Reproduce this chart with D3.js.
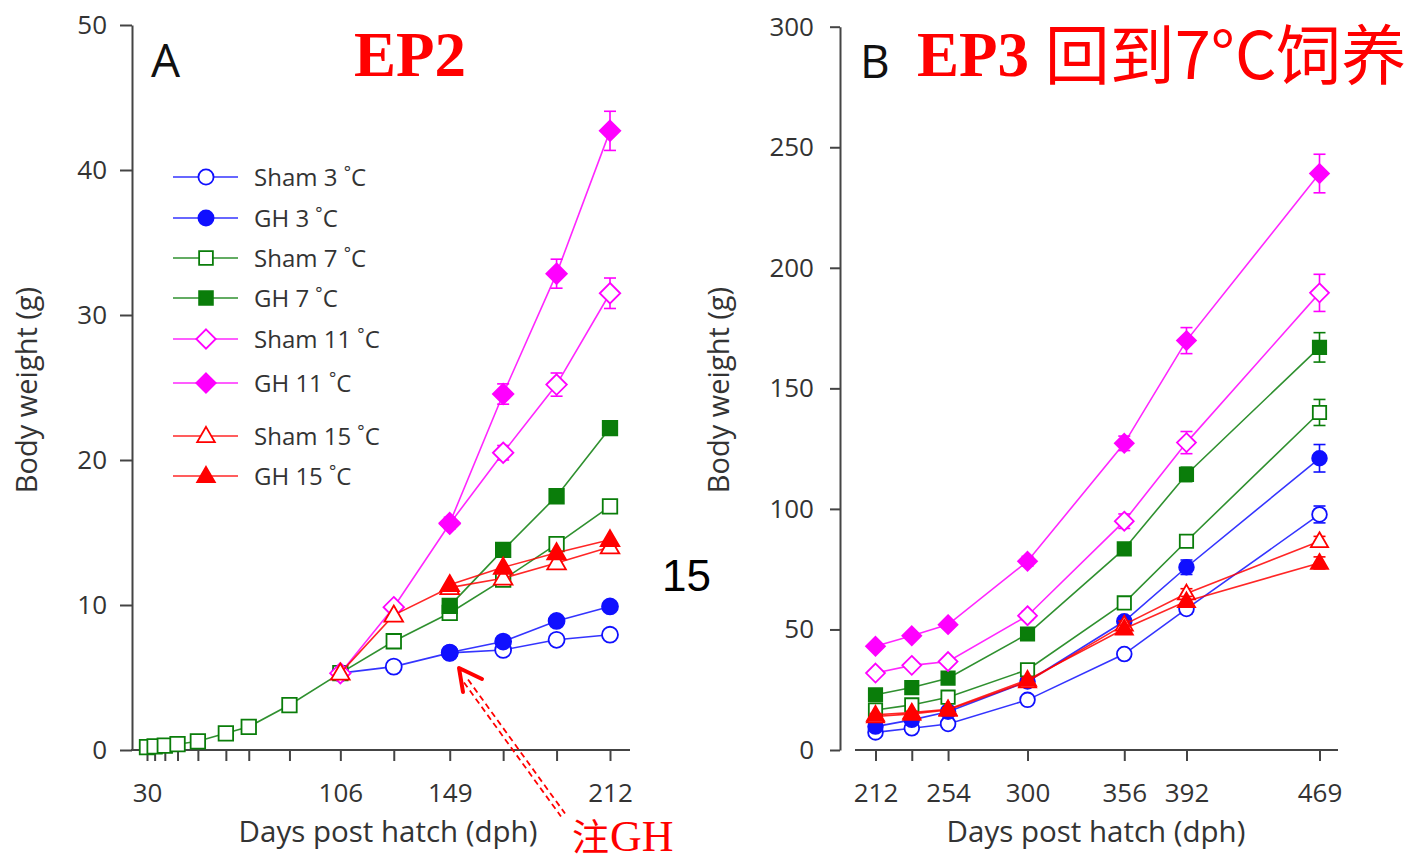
<!DOCTYPE html>
<html>
<head>
<meta charset="utf-8">
<title>Body weight - EP2 / EP3</title>
<script src="https://d3js.org/d3.v7.min.js"></script>
<style>
  body { margin: 0; background: #fff; }
  .tick text, .lbl { font-family: "Open Sans", Lato, sans-serif; fill: #333; }
  .ax path, .ax line, .axline { stroke: #444; stroke-width: 2; }
</style>
</head>
<body>
<div id="viz"></div>
<script>
// ---- data ----
// panel A (EP2): days post hatch
var daysEarly = [30, 33, 37, 42, 50, 61, 70, 86];
var daysA = [106, 127, 149, 170, 191, 212];
var daysA_gh = [149, 170, 191, 212];
var labelsA = [30, 106, 149, 212];

var sham7Early = [0.2, 0.25, 0.3, 0.4, 0.6, 1.15, 1.6, 3.1];
var sham3A  = [5.3, 5.75, 6.7, 6.9, 7.6, 7.95];
var sham7A  = [5.3, 7.5, 9.45, 11.75, 14.2, 16.8];
var sham11A = [5.3, 9.85, 15.6, 20.5, 25.2, 31.5];
var sham15A = [5.3, 9.3, 11.2, 11.85, 12.9, 14.0];
var gh3A  = [6.72, 7.48, 8.9, 9.9];
var gh7A  = [9.94, 13.8, 17.5, 22.2];
var gh11A = [15.65, 24.55, 32.85, 42.7];
var gh15A = [11.4, 12.6, 13.6, 14.5];
// standard errors (only the magenta ones stick out of the markers)
var sham11A_se = [0, 0, 0, 0.5, 0.8, 1.05];
var gh11A_se   = [0.4, 0.7, 1.0, 1.35];

// panel B (EP3, back to 7 C)
var daysB = [212, 233, 254, 300, 356, 392, 469];
var labelsB = [212, 254, 300, 356, 392, 469];
var sham3B  = [7.3, 9.0, 10.8, 20.8, 39.8, 58.5, 97.7];
var gh3B    = [9.7, 12.5, 15.9, 28.4, 53.4, 75.8, 121.0];
var sham7B  = [16.6, 18.7, 21.9, 33.3, 61.0, 86.6, 140.0];
var gh7B    = [22.9, 25.9, 29.8, 48.1, 83.4, 114.3, 167.0];
var sham11B = [31.9, 35.1, 36.7, 55.7, 94.9, 127.5, 189.6];
var gh11B   = [43.0, 47.4, 52.0, 78.3, 127.2, 169.8, 239.1];
var sham15B = [13.9, 15.0, 16.6, 28.4, 52.0, 64.9, 86.6];
var gh15B   = [14.6, 15.5, 16.9, 29.1, 50.3, 61.7, 77.6];
var sham3B_se  = [0.5, 0.5, 0.6, 1.0, 1.5, 2.0, 3.5];
var gh3B_se    = [0.5, 0.6, 0.8, 1.2, 2.0, 3.0, 5.7];
var sham7B_se  = [0.6, 0.7, 0.8, 1.2, 2.0, 2.5, 5.4];
var gh7B_se    = [0.8, 0.9, 1.0, 1.6, 2.4, 3.0, 6.1];
var sham11B_se = [1.0, 1.0, 1.2, 1.8, 3.0, 4.6, 7.7];
var gh11B_se   = [1.2, 1.3, 1.4, 2.0, 3.0, 5.4, 8.0];
var sham15B_se = [0.5, 0.5, 0.6, 1.0, 1.5, 2.0, 2.0];
var gh15B_se   = [0.5, 0.5, 0.6, 1.0, 1.5, 2.0, 2.5];

var legendNames = ["Sham 3 ", "GH 3 ", "Sham 7 ", "GH 7 ", "Sham 11 ", "GH 11 ", "Sham 15 ", "GH 15 "];

// ---- styles ----
var BLUE = "#1010ff", GREEN = "#0a7d0a", MAG = "#ff00ff", RED = "#ff0000";

var symDiamond = {
  draw: function(c, size) {
    var h = Math.sqrt(size / 2);
    c.moveTo(0, -h); c.lineTo(h, 0); c.lineTo(0, h); c.lineTo(-h, 0); c.closePath();
  }
};
var symTri = {
  draw: function(c, size) {
    // side s, centre a bit below the middle
    var s = Math.sqrt(size * 4 / Math.sqrt(3)), h = s * Math.sqrt(3) / 2;
    c.moveTo(0, -h * 0.6); c.lineTo(s / 2, h * 0.4); c.lineTo(-s / 2, h * 0.4); c.closePath();
  }
};
var kinds = [
  {color: BLUE,  sym: d3.symbolCircle, size: 200, open: true},
  {color: BLUE,  sym: d3.symbolCircle, size: 200, open: false},
  {color: GREEN, sym: d3.symbolSquare, size: 210, open: true},
  {color: GREEN, sym: d3.symbolSquare, size: 210, open: false},
  {color: MAG,   sym: symDiamond,      size: 210, open: true},
  {color: MAG,   sym: symDiamond,      size: 210, open: false},
  {color: RED,   sym: symTri,          size: 150, open: true},
  {color: RED,   sym: symTri,          size: 150, open: false}
];

var svg = d3.select("#viz").append("svg")
  .attr("width", 1409).attr("height", 862);

function drawSeries(g, x, y, days, vals, se, k, scale) {
  var pts = days.map(function(d, i) { return {d: d, v: vals[i], e: se ? se[i] : 0}; });
  var line = d3.line().x(function(p) { return x(p.d); }).y(function(p) { return y(p.v); });
  g.append("path").datum(pts)
    .attr("d", line).attr("fill", "none")
    .attr("stroke", k.color).attr("stroke-width", 1.6).attr("stroke-opacity", 0.85);
  // error bars
  pts.filter(function(p) { return p.e > 0; }).forEach(function(p) {
    var cx = x(p.d), y1 = y(p.v + p.e), y2 = y(p.v - p.e);
    var eb = g.append("g").attr("stroke", k.color).attr("stroke-width", 1.6);
    eb.append("line").attr("x1", cx).attr("x2", cx).attr("y1", y1).attr("y2", y2);
    eb.append("line").attr("x1", cx - 6).attr("x2", cx + 6).attr("y1", y1).attr("y2", y1);
    eb.append("line").attr("x1", cx - 6).attr("x2", cx + 6).attr("y1", y2).attr("y2", y2);
  });
  g.selectAll(null).data(pts).enter().append("path")
    .attr("d", d3.symbol().type(k.sym).size(k.size * scale))
    .attr("transform", function(p) { return "translate(" + x(p.d) + "," + y(p.v) + ")"; })
    .attr("fill", k.open ? "#fff" : k.color)
    .attr("stroke", k.color).attr("stroke-width", 1.8);
}

function yLabel(xc) {
  svg.append("text").attr("class", "lbl")
    .attr("transform", "translate(" + xc + ",390) rotate(-90)")
    .attr("text-anchor", "middle").attr("font-size", 29)
    .text("Body weight (g)");
}
function xLabel(xc) {
  svg.append("text").attr("class", "lbl")
    .attr("x", xc).attr("y", 842).attr("text-anchor", "middle").attr("font-size", 29.5)
    .text("Days post hatch (dph)");
}

// ================= Panel A =================
var xA = d3.scaleLinear().domain([30, 212]).range([147, 610]);
var yA = d3.scaleLinear().domain([0, 50]).range([750, 25]);

svg.append("g").attr("class", "ax").attr("transform", "translate(132,0)")
  .call(d3.axisLeft(yA).tickValues([0, 10, 20, 30, 40, 50]).tickSize(12).tickPadding(13).tickSizeOuter(0))
  .selectAll("text").attr("font-size", 26);

var gxA = svg.append("g").attr("class", "ax").attr("transform", "translate(0,750)")
  .call(d3.axisBottom(xA).tickValues(daysEarly.concat(daysA)).tickSize(11).tickPadding(23)
    .tickFormat(function(d) { return labelsA.indexOf(d) >= 0 ? d : ""; }));
gxA.select(".domain").remove();
gxA.selectAll("text").attr("font-size", 26);
svg.append("line").attr("class", "axline").attr("x1", 131).attr("x2", 630).attr("y1", 750).attr("y2", 750);

yLabel(37);
xLabel(388);

var gA = svg.append("g");
drawSeries(gA, xA, yA, daysA, sham3A, null, kinds[0], 1);
drawSeries(gA, xA, yA, daysA_gh, gh3A, null, kinds[1], 1);
drawSeries(gA, xA, yA, daysEarly.concat(daysA), sham7Early.concat(sham7A), null, kinds[2], 1);
drawSeries(gA, xA, yA, daysA_gh, gh7A, null, kinds[3], 1);
drawSeries(gA, xA, yA, daysA, sham11A, sham11A_se, kinds[4], 1);
drawSeries(gA, xA, yA, daysA_gh, gh11A, gh11A_se, kinds[5], 1);
drawSeries(gA, xA, yA, daysA, sham15A, null, kinds[6], 1);
drawSeries(gA, xA, yA, daysA_gh, gh15A, null, kinds[7], 1);

// legend
var legY = [177, 218, 258, 298, 339, 383, 436, 476];
var leg = svg.append("g");
legendNames.forEach(function(name, i) {
  var k = kinds[i], yy = legY[i];
  leg.append("line").attr("x1", 173).attr("x2", 238).attr("y1", yy).attr("y2", yy)
    .attr("stroke", k.color).attr("stroke-width", 1.6).attr("stroke-opacity", 0.85);
  leg.append("path").attr("d", d3.symbol().type(k.sym).size(k.size * 0.9))
    .attr("transform", "translate(206," + yy + ")")
    .attr("fill", k.open ? "#fff" : k.color).attr("stroke", k.color).attr("stroke-width", 1.8);
  var t = leg.append("text").attr("class", "lbl").attr("x", 254).attr("y", yy + 9).attr("font-size", 24);
  t.append("tspan").text(name);
  t.append("tspan").attr("font-size", 17).attr("dy", -8).text("°");
  t.append("tspan").attr("dy", 8).text("C");
});

svg.append("text").attr("class", "lbl").attr("x", 151).attr("y", 77)
  .attr("font-size", 46).style("fill", "#111").text("A");
svg.append("text").attr("x", 354).attr("y", 76)
  .attr("font-family", "'Liberation Serif', 'Times New Roman', serif").attr("font-weight", "bold")
  .attr("font-size", 63).attr("fill", "#ff0000").text("EP2");

// ================= Panel B =================
var xB = d3.scaleLinear().domain([212, 469]).range([875.5, 1319.5]);
var yB = d3.scaleLinear().domain([0, 300]).range([750, 26.7]);

svg.append("g").attr("class", "ax").attr("transform", "translate(840,0)")
  .call(d3.axisLeft(yB).tickValues([0, 50, 100, 150, 200, 250, 300]).tickSize(10).tickPadding(16).tickSizeOuter(0))
  .selectAll("text").attr("font-size", 26);

var gxB = svg.append("g").attr("class", "ax").attr("transform", "translate(0,750)")
  .call(d3.axisBottom(xB).tickValues(daysB).tickSize(11).tickPadding(23)
    .tickFormat(function(d) { return labelsB.indexOf(d) >= 0 ? d : ""; }));
gxB.select(".domain").remove();
gxB.selectAll("text").attr("font-size", 26);
svg.append("line").attr("class", "axline").attr("x1", 855).attr("x2", 1338).attr("y1", 750).attr("y2", 750);

yLabel(729);
xLabel(1096);

var gB = svg.append("g");
var seriesB = [sham3B, gh3B, sham7B, gh7B, sham11B, gh11B, sham15B, gh15B];
var seB = [sham3B_se, gh3B_se, sham7B_se, gh7B_se, sham11B_se, gh11B_se, sham15B_se, gh15B_se];
seriesB.forEach(function(vals, i) {
  drawSeries(gB, xB, yB, daysB, vals, seB[i], kinds[i], 0.85);
});

svg.append("text").attr("class", "lbl").attr("x", 860).attr("y", 78)
  .attr("font-size", 46).style("fill", "#111").text("B");
var title = svg.append("text").attr("x", 917).attr("y", 76).attr("fill", "#ff0000");
title.append("tspan")
  .attr("font-family", "'Liberation Serif', 'Times New Roman', serif").attr("font-weight", "bold")
  .attr("font-size", 63).text("EP3 ");
title.append("tspan").attr("font-family", "'Noto Sans CJK SC', sans-serif")
  .attr("font-size", 65).attr("dy", 3).text("回到7°C饲养");

// ================= annotations =================
svg.append("text").attr("x", 662).attr("y", 591)
  .attr("font-family", "'Liberation Sans', Arial, sans-serif").attr("font-size", 44)
  .attr("fill", "#000").text("15");

var ax0 = 466, ay0 = 681, ax1 = 563, ay1 = 815;
var len = Math.hypot(ax1 - ax0, ay1 - ay0), nx = -(ay1 - ay0) / len, ny = (ax1 - ax0) / len;
[-2.5, 2.5].forEach(function(o) {
  svg.append("line")
    .attr("x1", ax0 + nx * o).attr("y1", ay0 + ny * o)
    .attr("x2", ax1 + nx * o).attr("y2", ay1 + ny * o)
    .attr("stroke", "#ff0000").attr("stroke-width", 1.8).attr("stroke-dasharray", "6,4");
});
svg.append("polyline")
  .attr("points", "463,692 459,668 482,679")
  .attr("fill", "none").attr("stroke", "#ff0000").attr("stroke-width", 4)
  .attr("stroke-linejoin", "round").attr("stroke-linecap", "round");

svg.append("text").attr("x", 572).attr("y", 851).attr("fill", "#ff0000")
  .attr("font-family", "'Noto Sans CJK SC', sans-serif").attr("font-size", 37).text("注");
svg.append("text").attr("x", 610).attr("y", 851).attr("fill", "#ff0000")
  .attr("font-family", "'Liberation Serif', 'Times New Roman', serif")
  .attr("font-size", 44).text("GH");
</script>
</body>
</html>
